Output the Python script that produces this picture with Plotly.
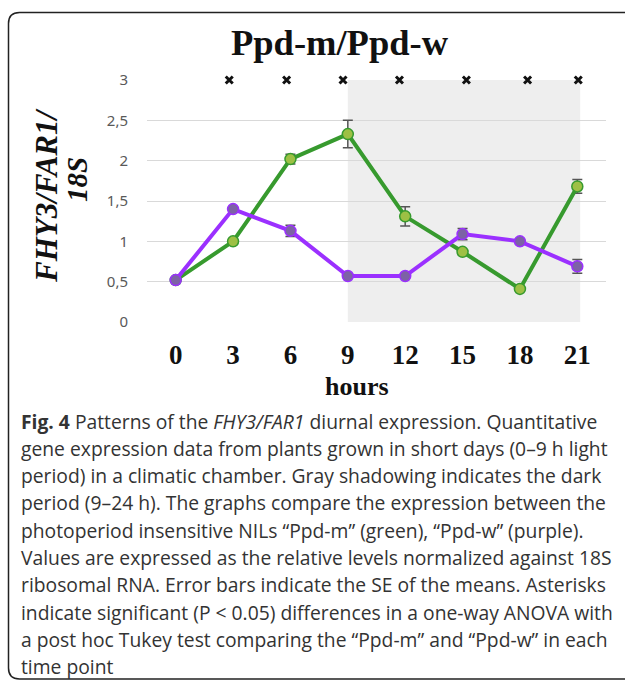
import plotly.graph_objects as go

# ---------------- data ----------------
hours = [0, 3, 6, 9, 12, 15, 18, 21]
ppd_m = [0.52, 1.00, 2.02, 2.33, 1.31, 0.87, 0.41, 1.68]
ppd_m_se = [0.02, 0.03, 0.06, 0.17, 0.12, 0.03, 0.02, 0.085]
ppd_w = [0.52, 1.40, 1.13, 0.57, 0.57, 1.09, 1.00, 0.69]
ppd_w_se = [0.02, 0.03, 0.07, 0.02, 0.02, 0.07, 0.03, 0.085]
asterisk_x = [2.8, 5.8, 8.75, 11.7, 15.2, 18.4, 21.05]
asterisk_y = [3, 3, 3, 3, 3, 3, 3]
dark_start, dark_end = 9, 21.15
y_ticks = [0, 0.5, 1, 1.5, 2, 2.5, 3]
y_tick_labels = ["0", "0,5", "1", "1,5", "2", "2,5", "3"]
x_tick_labels = ["0", "3", "6", "9", "12", "15", "18", "21"]

caption_lines = [
    "<b>Fig. 4</b> Patterns of the <i>FHY3/FAR1</i> diurnal expression. Quantitative",
    "gene expression data from plants grown in short days (0–9 h light",
    "period) in a climatic chamber. Gray shadowing indicates the dark",
    "period (9–24 h). The graphs compare the expression between the",
    "photoperiod insensitive NILs “Ppd-m” (green), “Ppd-w” (purple).",
    "Values are expressed as the relative levels normalized against 18S",
    "ribosomal RNA. Error bars indicate the SE of the means. Asterisks",
    "indicate significant (P &lt; 0.05) differences in a one-way ANOVA with",
    "a post hoc Tukey test comparing the “Ppd-m” and “Ppd-w” in each",
    "time point",
]

# ---------------- layout geometry (screen pixels) ----------------
W, H = 625, 681
PLOT_L, PLOT_R, PLOT_T, PLOT_B = 147, 606, 80, 322
L, R, T, B = PLOT_L, W - PLOT_R, PLOT_T, H - PLOT_B
PW, PH = PLOT_R - PLOT_L, PLOT_B - PLOT_T


def px(x):
    return (x - PLOT_L) / PW


def py(y):
    return (PLOT_B - y) / PH


SERIF = "Liberation Serif"
GREEN = "#379a2e"
GREEN_FILL = "#9dc044"
PURPLE = "#9b30ff"
PURPLE_FILL = "#7d62a6"

fig = go.Figure()

fig.add_trace(go.Scatter(
    x=hours, y=ppd_m, mode="lines+markers", name="Ppd-m",
    line=dict(color=GREEN, width=4),
    marker=dict(size=11, color=GREEN_FILL, line=dict(color=GREEN, width=1.5)),
    error_y=dict(type="data", array=ppd_m_se, visible=True,
                 color="#555555", thickness=1.5, width=5),
))
fig.add_trace(go.Scatter(
    x=hours, y=ppd_w, mode="lines+markers", name="Ppd-w",
    line=dict(color=PURPLE, width=4),
    marker=dict(size=11, color=PURPLE_FILL, line=dict(color=PURPLE, width=1.5)),
    error_y=dict(type="data", array=ppd_w_se, visible=True,
                 color="#555555", thickness=1.5, width=5),
))
fig.add_trace(go.Scatter(
    x=asterisk_x, y=asterisk_y, mode="markers", name="significant",
    marker=dict(symbol="x-thin-open", size=7, color="#111111",
                line=dict(color="#111111", width=3)),
    cliponaxis=False,
))

# dark period shading
fig.add_shape(type="rect", xref="x", yref="y", x0=dark_start, x1=dark_end,
              y0=0, y1=3, fillcolor="#eeeeee", line=dict(width=0), layer="below")

# rounded frame around figure + caption (right side runs off the page)
x0, y0, x1, y1, r = 8.5, 12.5, 640, 679, 11
path = (f"M {px(x1)},{py(y0)} L {px(x0 + r)},{py(y0)} "
        f"Q {px(x0)},{py(y0)} {px(x0)},{py(y0 + r)} "
        f"L {px(x0)},{py(y1 - r)} Q {px(x0)},{py(y1)} {px(x0 + r)},{py(y1)} "
        f"L {px(x1)},{py(y1)}")
fig.add_shape(type="path", xref="paper", yref="paper", path=path,
              line=dict(color="#222222", width=1.5))

annotations = [
    dict(text="<b>Ppd-m/Ppd-w</b>", x=px(340), y=py(43), xref="paper", yref="paper",
         showarrow=False, xanchor="center", yanchor="middle",
         font=dict(family=SERIF, size=36.5, color="#111111")),
    dict(text="<b>hours</b>", x=px(357), y=py(386), xref="paper", yref="paper",
         showarrow=False, xanchor="center", yanchor="middle",
         font=dict(family=SERIF, size=26, color="#111111")),
    dict(text="<b><i>FHY3/FAR1/</i></b>", x=px(46), y=py(196), xref="paper", yref="paper",
         showarrow=False, xanchor="center", yanchor="middle", textangle=-90,
         font=dict(family=SERIF, size=31, color="#111111")),
    dict(text="<b><i>18S</i></b>", x=px(77), y=py(180), xref="paper", yref="paper",
         showarrow=False, xanchor="center", yanchor="middle", textangle=-90,
         font=dict(family=SERIF, size=29, color="#111111")),
]
for i, line in enumerate(caption_lines):
    annotations.append(dict(
        text=line, x=px(19), y=py(421 + i * 27.3), xref="paper", yref="paper",
        showarrow=False, xanchor="left", yanchor="middle", align="left",
        font=dict(family="Open Sans", size=19.3, color="#333333")))

fig.update_layout(
    width=W, height=H,
    margin=dict(l=L, r=R, t=T, b=B, pad=0),
    paper_bgcolor="white", plot_bgcolor="white",
    showlegend=False,
    annotations=annotations,
    xaxis=dict(range=[-1.5, 22.5], tickvals=hours, ticktext=x_tick_labels,
               showgrid=False, zeroline=False, showline=False, ticks="",
               tickfont=dict(family=SERIF, size=27, color="#111111", weight="bold"),
               ticklabelstandoff=14),
    yaxis=dict(range=[0, 3], tickvals=y_ticks, ticktext=y_tick_labels,
               showgrid=True, gridcolor="#d9d9d9", gridwidth=1.2,
               zeroline=False, showline=False, ticks="",
               tickfont=dict(family="Noto Sans", size=15, color="#595959"),
               ticklabelstandoff=18),
)

fig.write_html(
    "out.html",
    config={"displayModeBar": False},
    post_script="document.body.style.margin='0';"
                "document.documentElement.style.overflow='hidden';"
                "document.body.style.overflow='hidden';",
)
